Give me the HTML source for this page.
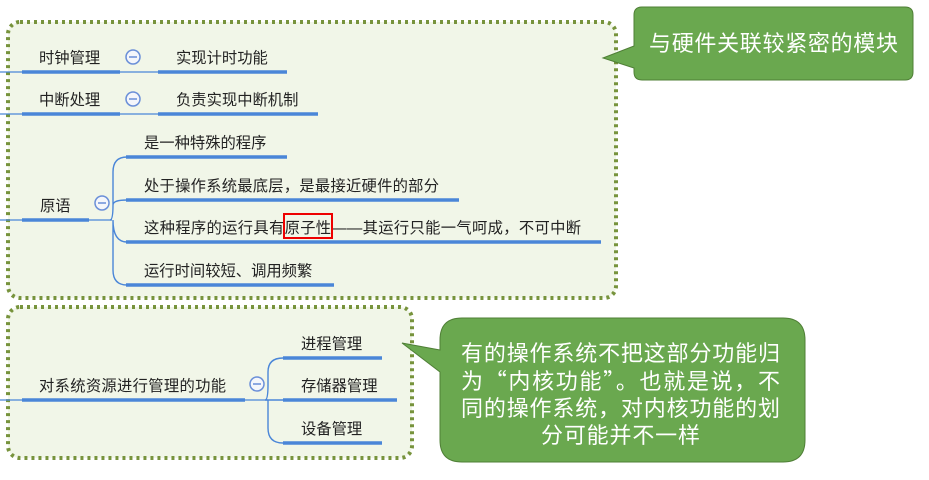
<!DOCTYPE html>
<html><head><meta charset="utf-8"><style>
body{margin:0;background:#fff;}
svg text{font-family:"Liberation Sans","Noto Sans CJK SC",sans-serif;}
.c{font-family:"Noto Sans CJK SC",sans-serif !important;}
</style></head><body>
<svg width="929" height="475" viewBox="0 0 929 475" xmlns="http://www.w3.org/2000/svg">
<rect x="8" y="22" width="608" height="276" rx="12" fill="#f1f6e8" stroke="#77933c" stroke-width="4" stroke-dasharray="3 4"/>
<rect x="8" y="307" width="404" height="151" rx="12" fill="#f1f6e8" stroke="#77933c" stroke-width="4" stroke-dasharray="3 4"/>
<g stroke="#4a86d8" fill="none">
<line x1="0" y1="72" x2="158" y2="72" stroke-width="1.2"/>
<line x1="22" y1="72" x2="120" y2="72" stroke-width="3.5"/>
<line x1="158" y1="72" x2="287" y2="72" stroke-width="3.5"/>
<line x1="0" y1="114" x2="158" y2="114" stroke-width="1.2"/>
<line x1="22" y1="114" x2="120" y2="114" stroke-width="3.5"/>
<line x1="158" y1="114" x2="318" y2="114" stroke-width="3.5"/>
<line x1="0" y1="220" x2="112" y2="220" stroke-width="1.2"/>
<line x1="22" y1="220" x2="89" y2="220" stroke-width="3.5"/>
<path d="M110 220 Q113 220 113 205 L113 172 Q113 157 127 157 M113 205 Q113 200 127 200 M113 220 Q113 242 127 242 M113 220 L113 270 Q113 285 127 285" stroke-width="1.4"/>
<line x1="126" y1="157" x2="287" y2="157" stroke-width="3.5"/>
<line x1="126" y1="200" x2="459" y2="200" stroke-width="3.5"/>
<line x1="126" y1="242" x2="601" y2="242" stroke-width="3.5"/>
<line x1="126" y1="285" x2="334" y2="285" stroke-width="3.5"/>
<line x1="0" y1="400" x2="268" y2="400" stroke-width="1.2"/>
<line x1="22" y1="400" x2="245" y2="400" stroke-width="3.5"/>
<path d="M265 400 L283 400 M265 400 Q268 400 268 385 L268 372 Q268 358 283 358 M268 400 L268 428 Q268 443 283 443" stroke-width="1.4"/>
<line x1="283" y1="358" x2="382" y2="358" stroke-width="3.5"/>
<line x1="283" y1="400" x2="397" y2="400" stroke-width="3.5"/>
<line x1="283" y1="443" x2="382" y2="443" stroke-width="3.5"/>
</g>
<g fill="#f4f6fb" stroke="#6a8fd8" stroke-width="1.5">
<circle cx="133" cy="57" r="7"/><circle cx="133" cy="99" r="7"/><circle cx="102" cy="203" r="7"/><circle cx="257" cy="384" r="7"/>
</g>
<g stroke="#6a8fd8" stroke-width="1.5">
<line x1="129" y1="57" x2="137" y2="57"/><line x1="129" y1="99" x2="137" y2="99"/><line x1="98" y1="203" x2="106" y2="203"/><line x1="253" y1="384" x2="261" y2="384"/>
</g>
<g font-size="15.3" fill="#222">
<text x="39" y="63">时钟管理</text>
<text x="176" y="63">实现计时功能</text>
<text x="39" y="105">中断处理</text>
<text x="176" y="105">负责实现中断机制</text>
<text x="40" y="211">原语</text>
<text x="144" y="148">是一种特殊的程序</text>
<text x="144" y="191" textLength="295">处于操作系统最底层，是最接近硬件的部分</text>
<text x="144" y="233" textLength="437">这种程序的运行具有原子性——其运行只能一气呵成，不可中断</text>
<text x="144" y="276">运行时间较短、调用频繁</text>
<text x="39" y="391" textLength="187">对系统资源进行管理的功能</text>
<text x="301" y="349">进程管理</text>
<text x="301" y="391">存储器管理</text>
<text x="301" y="434">设备管理</text>
</g>
<rect x="284" y="214" width="48" height="24" fill="none" stroke="#e00" stroke-width="2"/>
<path d="M642 7 H905 Q913 7 913 15 V72 Q913 80 905 80 H642 Q634 80 634 72 V68 L603 58 L634 46 V15 Q634 7 642 7 Z" fill="#6aa84f" stroke="#4f7f36" stroke-width="1"/>
<text x="649" y="51" font-size="22" fill="#fff" textLength="249">与硬件关联较紧密的模块</text>
<path d="M462 318 H783 Q805 318 805 340 V440 Q805 462 783 462 H462 Q440 462 440 440 V372 L402 343 L440 350 V340 Q440 318 462 318 Z" fill="#6aa84f" stroke="#4f7f36" stroke-width="1"/>
<g font-size="22" fill="#fff" class="c">
<text class="c" x="461" y="361" textLength="319">有的操作系统不把这部分功能归</text>
<text class="c" x="461" y="389" textLength="319">为“内核功能”。也就是说，不</text>
<text class="c" x="461" y="416" textLength="319">同的操作系统，对内核功能的划</text>
<text class="c" x="541" y="443" textLength="159">分可能并不一样</text>
</g>
</svg>
</body></html>
